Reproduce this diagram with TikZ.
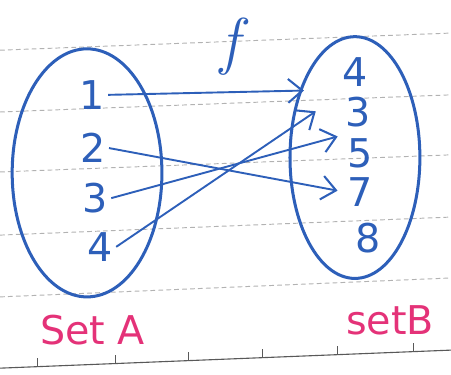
\documentclass[tikz,border=0pt]{standalone}
\usepackage{fontspec}
\setsansfont{DejaVu Sans}
\usetikzlibrary{arrows.meta}
\definecolor{inkblue}{RGB}{45,95,185}
\definecolor{inkpink}{RGB}{228,50,120}
\begin{document}
\begin{tikzpicture}[every node/.style={font=\sffamily\fontsize{25}{27}\selectfont, text=inkblue},
    elem/.style={inner sep=2pt},
    maparrow/.style={inkblue, line width=1.2pt, -{Straight Barb[length=9pt, width=15pt, line width=1.3pt]}}]
    \useasboundingbox (0,0) rectangle (10,8.293);

    % Papel pautado
    \foreach \yl/\yr in {7.18/7.56, 5.81/6.19, 4.48/4.86, 3.08/3.48, 1.71/2.13}
        \draw[gray!60, line width=0.6pt, densely dashed] (0,\yl) -- (10,\yr);
    \draw[gray!70!black, line width=0.7pt] (0,0.13) -- (10,0.53);
    \foreach \x in {0.84, 2.55, 4.17, 5.83, 7.49, 9.16}
        \draw[gray!70!black, line width=0.6pt] (\x,{0.13+0.04*\x}) -- ++(0,0.2);

    % Conjuntos
    \draw[inkblue, line width=1.9pt] (1.93,4.46) ellipse (1.66 and 2.75);
    \draw[inkblue, line width=1.9pt] (7.87,4.80) ellipse (1.44 and 2.68);

    % Elementos de A
    \node[elem] (a1) at (2.04,6.19) {1};
    \node[elem] (a2) at (2.06,5.01) {2};
    \node[elem] (a3) at (2.11,3.90) {3};
    \node[elem] (a4) at (2.22,2.82) {4};

    % Elementos de B
    \node[elem] (b4) at (7.87,6.70) {4};
    \node[elem] (b3) at (7.94,5.81) {3};
    \node[elem] (b5) at (7.98,4.90) {5};
    \node[elem] (b7) at (7.98,4.04) {7};
    \node[elem] (b8) at (8.16,3.02) {8};

    % Funcao f
    \node (f) at (5.10,7.25) {\rmfamily\itshape\fontsize{40}{42}\selectfont f};
    \draw[maparrow, shorten >=22pt] (a1.east) -- (b4.south west);
    \draw[maparrow, shorten >=4pt] (a2.east) -- (b7.west);
    \draw[maparrow, shorten >=4pt] (a3.east) -- (b5.north west);
    \draw[maparrow, shorten >=20pt] (a4.east) -- (b3.north west);

    % Nomes
    \node[text=inkpink] (nameA) at (2.05,0.98) {Set A};
    \node[text=inkpink] (nameB) at (8.65,1.20) {setB};
\end{tikzpicture}
\end{document}
